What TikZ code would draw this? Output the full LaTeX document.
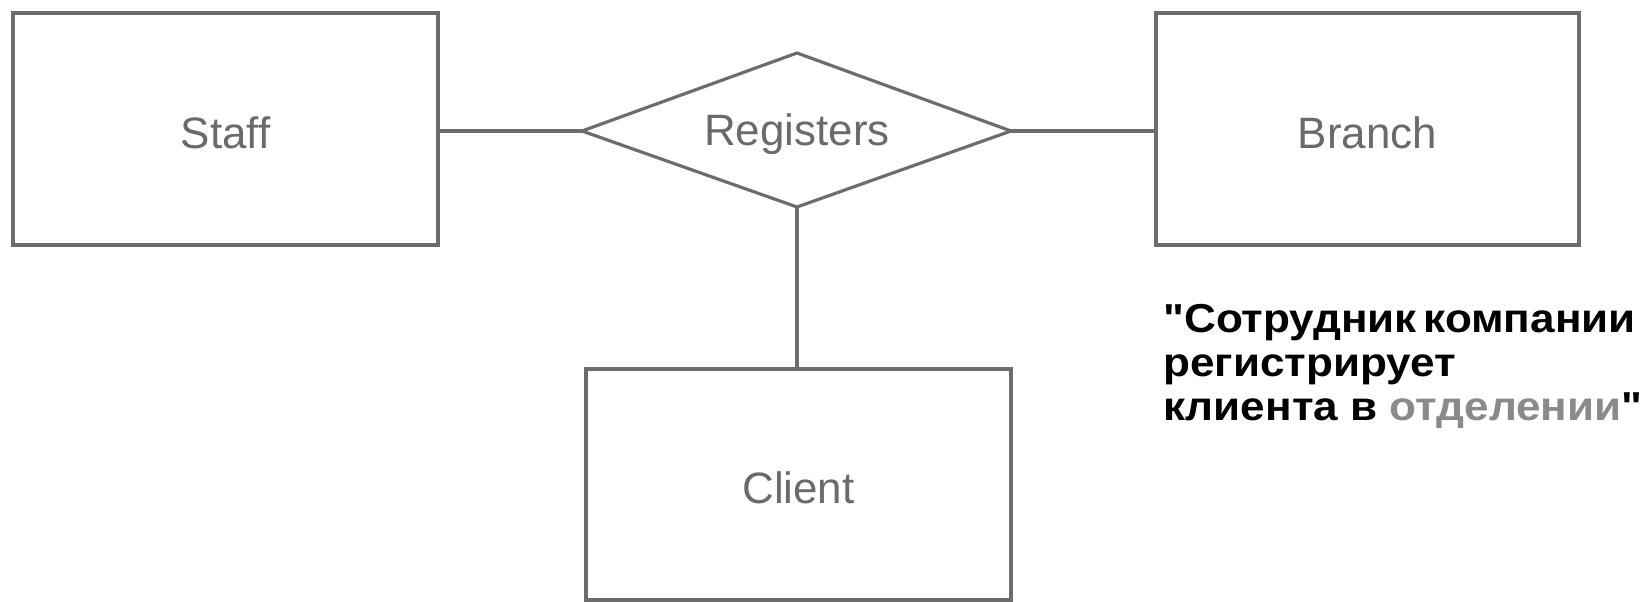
\documentclass[tikz,border=0pt]{standalone}
\usepackage{fontspec}
\setmainfont{Liberation Sans}
\newfontfamily\rufont[FakeStretch=1.09]{Liberation Sans}
\definecolor{edgegrey}{HTML}{6C6C6C}
\definecolor{labelgrey}{HTML}{6A6A6A}
\definecolor{softgrey}{HTML}{8A8A8A}
\begin{document}
\begin{tikzpicture}[x=0.02cm,y=-0.02cm,
  entity/.style={draw=edgegrey, line width=1.8pt, rectangle, inner sep=0pt,
    text=labelgrey, font=\fontsize{25}{30}\selectfont,
    text height=22pt, text depth=0pt},
  relname/.style={inner sep=0pt, text=labelgrey, font=\fontsize{25}{30}\selectfont},
  link/.style={draw=edgegrey, line width=1.8pt}]
\useasboundingbox (0,0) rectangle (1651,602);
\fill[white] (0,0) rectangle (1651,602);

% entity sets
\node[entity, minimum width=8.5cm, minimum height=4.64cm] (staff) at (225.5,129) {Staff};
\node[entity, minimum width=8.46cm, minimum height=4.64cm] (branch) at (1367.5,129) {Branch};
\node[entity, minimum width=8.5cm, minimum height=4.62cm] (client) at (798.5,484.5) {Client};

% relationship diamond
\coordinate (regW) at (582,131);
\coordinate (regN) at (797,53);
\coordinate (regE) at (1011,131);
\coordinate (regS) at (797,207);
\draw[link, line join=miter] (regW) -- (regN) -- (regE) -- (regS) -- cycle;
\node[relname] (reg) at (797,134) {Registers};

% connectors
\draw[link] (regW -| staff.east) -- (regW);
\draw[link] (regE) -- (regE -| branch.west);
\draw[link] (regS) -- (regS |- client.north);

\node[anchor=north west, inner sep=0pt, align=left,
  font=\rufont\bfseries\fontsize{23}{25}\selectfont] (quote) at (1163,304)
  {"Сотрудник\,компании\\регистрирует\\клиента в \textcolor{softgrey}{отделении}"};
\end{tikzpicture}
\end{document}
